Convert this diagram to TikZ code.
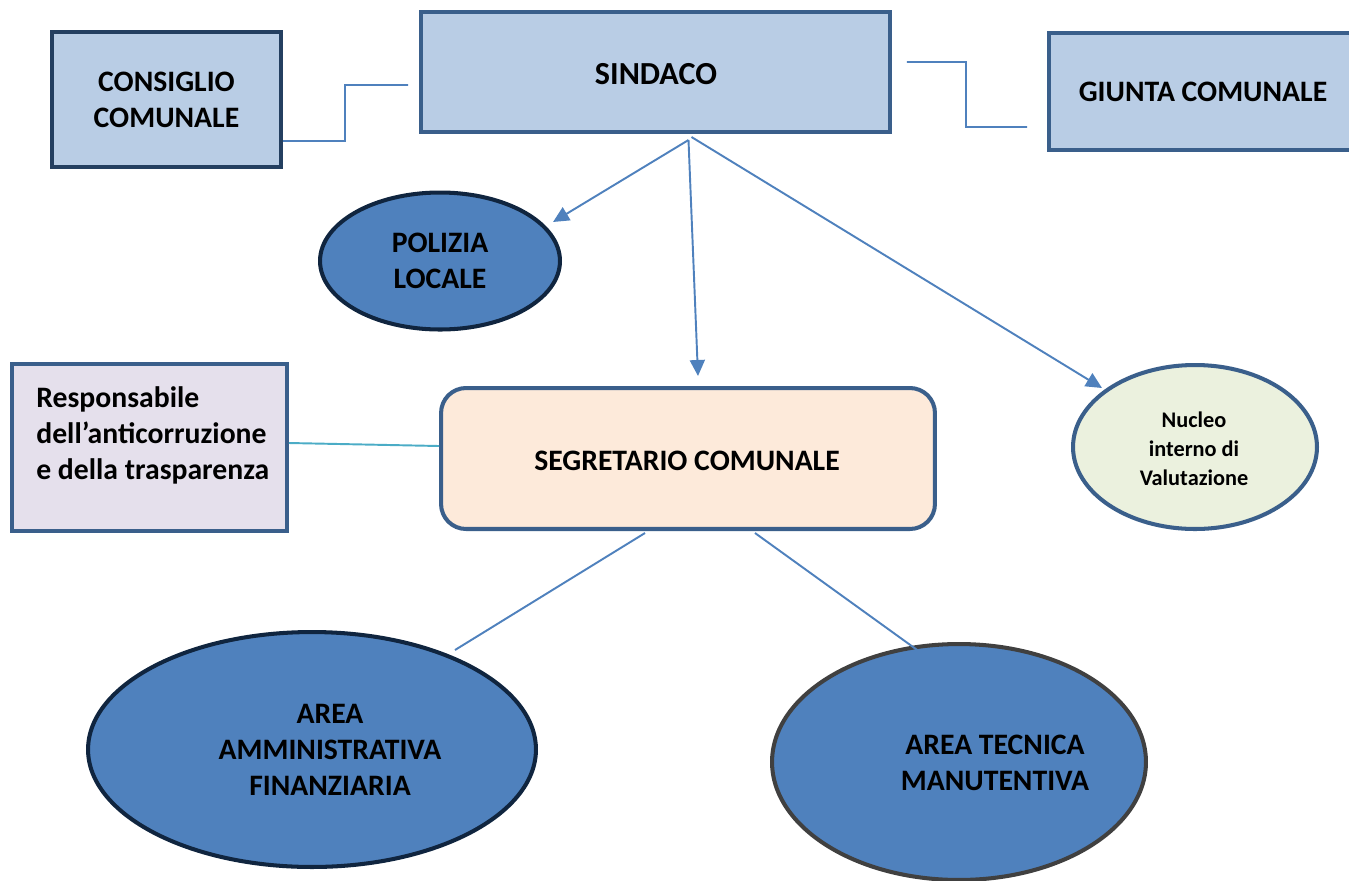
\documentclass[tikz,border=0pt]{standalone}
\usepackage{fontspec}
\setmainfont{Carlito}
\usetikzlibrary{calc,shapes.geometric,arrows.meta}
\definecolor{boxfill}{HTML}{B9CDE5}
\definecolor{boxline}{HTML}{3A5F8B}
\definecolor{darkline}{HTML}{243F60}
\definecolor{navy}{HTML}{10253F}
\definecolor{ellfill}{HTML}{4F81BD}
\definecolor{connc}{HTML}{4F81BD}
\definecolor{tealc}{HTML}{4BACC6}
\definecolor{respfill}{HTML}{E5E0EC}
\definecolor{segfill}{HTML}{FDEADA}
\definecolor{nucfill}{HTML}{EBF1DE}
\definecolor{grayline}{HTML}{404040}
\tikzset{
  every node/.style={font=\fontsize{16.9}{20.6}\selectfont\bfseries, align=center, inner sep=0pt},
  topbox/.style={rectangle, draw=boxline, fill=boxfill, line width=2.3pt},
  ellbox/.style={ellipse, draw=navy, fill=ellfill, line width=2.3pt},
  conn/.style={draw=connc, line width=1.1pt},
  arr/.style={conn, -{Triangle[length=0.32cm,width=0.3cm]}},
}
\begin{document}
\begin{tikzpicture}[x=0.02cm,y=-0.02cm]
\useasboundingbox (0,0) rectangle (1349,880);
\clip (0,0) rectangle (1349,880);
% top row
\node[topbox, draw=darkline, minimum width=4.58cm, minimum height=2.7cm] (cons) at (166.5,99.5) {CONSIGLIO\\COMUNALE};
\node[topbox, minimum width=9.38cm, minimum height=2.4cm] (sind) at (655.5,72) {};
\node[font=\fontsize{18.3}{22}\selectfont\bfseries] (sindtxt) at (656,74) {SINDACO};
\node[topbox, minimum width=6.16cm, minimum height=2.34cm] (giun) at (1203,91.5) {GIUNTA COMUNALE};
% middle
\node[ellbox, minimum width=4.8cm, minimum height=2.74cm] (pol) at (440,261) {POLIZIA\\LOCALE};
\node[rectangle, draw=boxline, fill=respfill, line width=2.3pt, minimum width=5.5cm, minimum height=3.34cm] (resp) at (149.5,447.5) {};
\node[anchor=north west, align=left] (resptxt) at (36,386) {Responsabile\\dell’anticorruzione\\e della trasparenza};
\node[rectangle, rounded corners=0.5cm, draw=boxline, fill=segfill, line width=2.3pt, minimum width=9.88cm, minimum height=2.82cm] (segr) at (688,458.5) {};
\node (segrtxt) at (687,461) {SEGRETARIO COMUNALE};
\node[ellipse, draw=boxline, fill=nucfill, line width=2.3pt, minimum width=4.88cm, minimum height=3.28cm] (nuc) at (1195,447) {};
\node[font=\fontsize{12.7}{16.4}\selectfont\bfseries] (nuctxt) at (1194,449) {Nucleo\\interno di\\Valutazione};
% bottom
\node[ellbox, minimum width=8.96cm, minimum height=4.7cm] (af) at (312,749.5) {};
\node (aftxt) at (330,750) {AREA\\AMMINISTRATIVA\\FINANZIARIA};
\node[ellbox, draw=grayline, minimum width=7.48cm, minimum height=4.72cm] (atm) at (959,762) {};
\node (atmtxt) at (995,763) {AREA TECNICA\\MANUTENTIVA};
% connectors top
\draw[conn] ($(cons.east)+(0,41.5)$) -- (345,141) -- (345,85) -- ($(sind.west)+(-11,13)$);
\draw[conn] ($(sind.east)+(15,-10)$) -- (966,62) -- (966,127) -- ($(giun.west)+(-20,35.5)$);
\coordinate (s0) at ($(sind.south)+(33,6)$);
\draw[arr] (s0) -- ($(pol.center)+(113,-39)$);
\draw[arr] (s0) -- ($(segr.north)+(10,-10)$);
\draw[arr] ($(sind.south)+(36,3)$) -- ($(nuc.center)+(-93,-59)$);
% middle connectors
\draw[draw=tealc, line width=1.1pt] ($(resp.east)+(0,-4.5)$) -- ($(segr.west)+(0,-12.5)$);
\draw[conn] ($(segr.south)+(-43,2)$) -- ($(af.center)+(143,-99.5)$);
\draw[conn] ($(segr.south)+(67,2)$) -- ($(atm.center)+(-39,-110)$);
\end{tikzpicture}
\end{document}
